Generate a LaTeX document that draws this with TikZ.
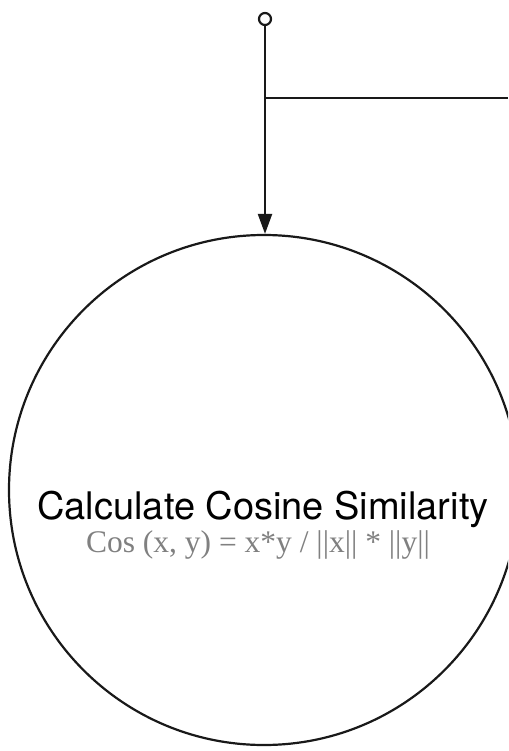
\documentclass[tikz,border=0pt]{standalone}
\usepackage{fontspec}
\newfontfamily\titlefont{TeX Gyre Heros}
\newfontfamily\formulafont{Liberation Serif}
\usetikzlibrary{arrows.meta,positioning}
\tikzset{
  process/.style={
    circle,
    draw=black!90,
    line width=2.2pt,
    minimum size=510pt,
    inner sep=0pt
  },
  start/.style={
    circle,
    draw=black!90,
    line width=2.2pt,
    fill=white,
    minimum size=12pt,
    inner sep=0pt
  },
  title/.style={
    font=\titlefont\fontsize{38}{40}\selectfont,
    text=black
  },
  formula/.style={
    font=\formulafont\fontsize{31.5}{33}\selectfont,
    text=black!50
  },
  line/.style={
    line width=2.2pt,
    draw=black!90
  },
  arrow/.style={
    line,
    -{Triangle[length=20pt,width=14pt]}
  }
}
\begin{document}
\begin{tikzpicture}[x=1pt,y=-1pt]
  \useasboundingbox (0,0) rectangle (508,751);
  \clip (0,0) rectangle (508,751);

  \node[process] (sim) at (264,490) {};
  \node[start] (in) at (265,19) {};
  \node[title] (name) at (263,509) {Calculate Cosine Similarity};
  \node[formula] (eq) at (258,545) {Cos (x, y) = x*y / ||x|| * ||y||};
  \coordinate (out) at (508,98);

  \draw[arrow] (in) -- (in |- sim.north);
  \draw[line] (in |- out) -- (out);
\end{tikzpicture}
\end{document}
